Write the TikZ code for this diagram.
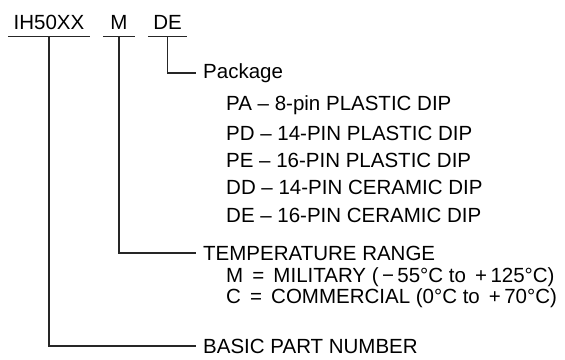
\documentclass[tikz,border=0pt]{standalone}
\usepackage{fontspec}
\setmainfont{Liberation Sans}
\usetikzlibrary{positioning}
\tikzset{
    field/.style={inner sep=0pt, minimum height=28pt, font=\fontsize{20.5}{24}\selectfont},
    desc/.style={anchor=west, inner xsep=7pt, inner ysep=0pt, font=\fontsize{20.5}{24}\selectfont},
    item/.style={anchor=west, inner sep=0pt, font=\fontsize{20.5}{24}\selectfont},
    leader/.style={line width=1.2pt, draw=black!85}
}
\begin{document}
\begin{tikzpicture}[x=1pt, y=-1pt]
        \useasboundingbox (0,0) rectangle (565,359);
        % part number fields
        \node[field, minimum width=82pt] (pn) at (49,22) {IH50XX};
        \node[field, minimum width=32pt] (temp) at (119,22) {M};
        \node[field, minimum width=39pt] (pkg) at (167.5,22) {DE};
        \draw[leader] (pn.south west) -- (pn.south east);
        \draw[leader] (temp.south west) -- (temp.south east);
        \draw[leader] (pkg.south west) -- (pkg.south east);
        % descriptions
        \node[desc] (pkgtitle) at (196,73) {Package};
        \node[item] (pa) at (226,105) {PA – 8-pin PLASTIC DIP};
        \node[item] (pd) at (226,133) {PD – 14-PIN PLASTIC DIP};
        \node[item] (pe) at (226,160) {PE – 16-PIN PLASTIC DIP};
        \node[item] (dd) at (226,187) {DD – 14-PIN CERAMIC DIP};
        \node[item] (de) at (226,215) {DE – 16-PIN CERAMIC DIP};
        \node[desc] (temptitle) at (196,253) {TEMPERATURE RANGE};
        \node[item] (mil) at (226,277) {M \,=\, MILITARY (\,−\,55°C to \,+\,125°C)};
        \node[item] (com) at (226,298) {C \,=\, COMMERCIAL (0°C to \,+\,70°C)};
        \node[desc] (basic) at (196,346) {BASIC PART NUMBER};
        % leaders
        \draw[leader] (pkg.south) |- (pkgtitle.west);
        \draw[leader] (temp.south) |- (temptitle.west);
        \draw[leader] (pn.south) |- (basic.west);
    \end{tikzpicture}
\end{document}
